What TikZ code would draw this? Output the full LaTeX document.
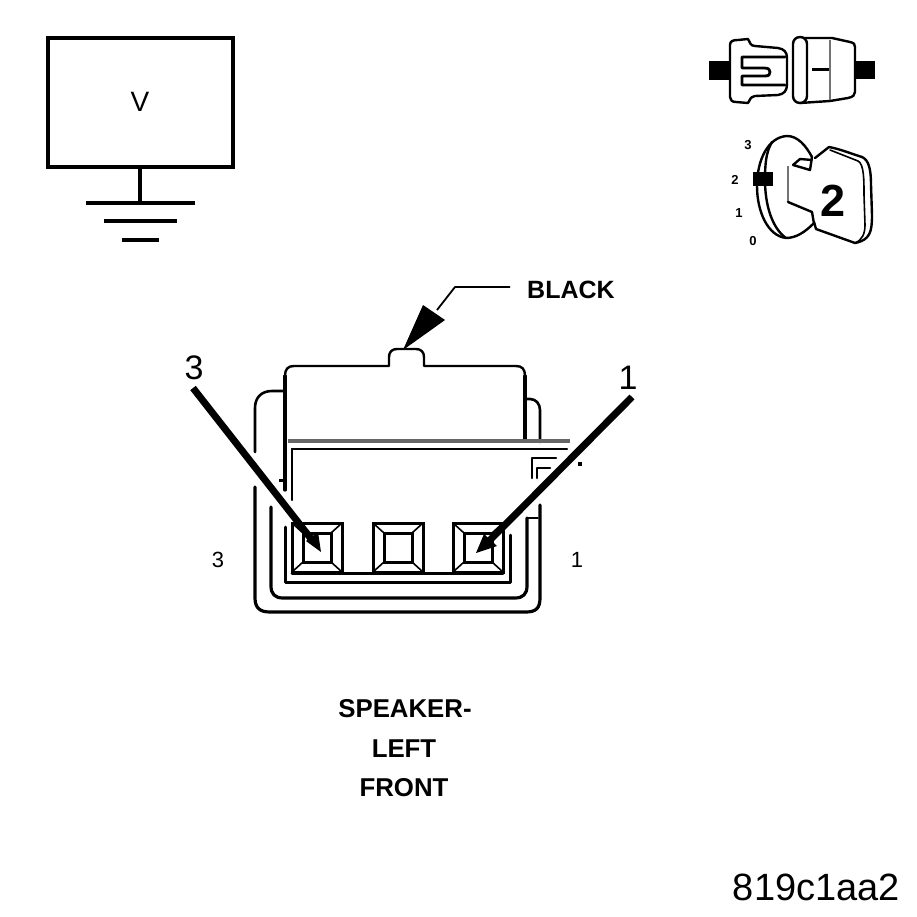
\documentclass[tikz,border=0pt]{standalone}
\usepackage{fontspec}
\setmainfont{Liberation Sans}
\newcommand{\fsz}[1]{\fontsize{#1}{#1}\selectfont}
\tikzset{
 ln/.style={draw=black,line width=2.4pt,line join=round,line cap=round},
 thin ln/.style={draw=black,line width=1.6pt,line join=round},
 heavy/.style={draw=black,line width=3.8pt},
 leader/.style={draw=black,line width=7pt},
 lab/.style={inner sep=0pt,text=black},
 gry/.style={draw=black!55,line width=2pt},
}
\begin{document}
\begin{tikzpicture}[x=1pt,y=-1pt]
\useasboundingbox (0,0) rectangle (917,917);
% voltmeter box and ground
\node[draw=black,line width=3.8pt,outer sep=0pt,minimum width=185pt,minimum height=129pt,inner sep=0pt,lab] (vbox) at (140.5,102.5) {};
\node[lab,font=\fsz{28}] (vlab) at (140,102) {V};
\coordinate (gnd) at (140,203);
\draw[heavy] (vbox.south -| gnd) -- (gnd);
\draw[heavy] (86,203) -- (195,203);
\draw[heavy] (104,221) -- (177,221);
\draw[heavy] (122,240) -- (159,240);
% connector icon, left half
\fill[black] (709,61) rectangle (730,80);
\draw[ln,fill=white] (730,45) .. controls (730,41) and (733,40) .. (738,40) -- (748,39) .. controls (750,42) and (750,46) .. (755,46) -- (778,48) .. controls (784,49) and (787,52) .. (787,58) -- (787,84) .. controls (787,91) and (784,94) .. (778,95) -- (755,96) .. controls (750,97) and (750,100) .. (748,103) -- (736,102) .. controls (732,102) and (730,100) .. (730,97) -- cycle;
\draw[ln,line width=2.8pt] (785,57) -- (742,57) -- (742,68) -- (764,68) .. controls (769,68) and (770,70) .. (770,72) .. controls (770,75) and (769,76) .. (764,76) -- (742,76) -- (742,85) -- (785,85);
% connector icon, right half
\fill[black] (856,61) rectangle (875,79);
\draw[ln,fill=white] (800,38) -- (832,38) -- (850,42) .. controls (854,43) and (855,44) .. (855,47) -- (855,92) .. controls (855,95) and (853,97) .. (848,98) -- (830,101) -- (800,103) -- cycle;
\draw[ln,fill=white] (793,44) .. controls (793,40) and (796,37) .. (800,37) .. controls (804,37) and (807,40) .. (807,44) -- (807,96) .. controls (807,100) and (804,103) .. (800,103) .. controls (796,103) and (793,100) .. (793,96) -- cycle;
\draw[gry] (830,40) -- (830,100);
\draw[draw=black,line width=3pt] (812,70) -- (829,70);
% ignition key icon
\node[lab,font=\bfseries\fsz{13}] (p3) at (748,145) {3};
\node[lab,font=\bfseries\fsz{13}] (p2) at (735,180) {2};
\node[lab,font=\bfseries\fsz{13}] (p1) at (739,213) {1};
\node[lab,font=\bfseries\fsz{13}] (p0) at (753,241) {0};
\draw[ln] (813,224) .. controls (805,232) and (796,238) .. (786,238) .. controls (768,236) and (757,212) .. (757,186) .. controls (757,160) and (768,137) .. (787,136) .. controls (798,136) and (806,146) .. (812,157);
\draw[ln] (772,142) .. controls (766,152) and (765,164) .. (765,180) .. controls (765,205) and (772,228) .. (786,238);
\fill[black] (753,172) rectangle (773,186);
\draw[ln] (812,157) -- (810,170) -- (793,165) -- (800,159) -- (812,160);
\draw[gry,line width=2.5pt] (788,166) -- (788,202);
\draw[ln] (788,202) -- (812,212) -- (814,224);
\draw[ln] (815,158) -- (829,147) .. controls (840,149) and (852,154) .. (862,157) .. controls (869,160) and (871,170) .. (871,185) -- (872,215) .. controls (872,232) and (870,240) .. (855,243) -- (816,229) -- (814,222);
\draw[ln,line width=1.6pt] (830,150) -- (858,161) .. controls (864,164) and (864,180) .. (864,195) -- (865,225) .. controls (865,234) and (862,240) .. (855,243);
\node[lab,font=\bfseries\fsz{45}] (keytwo) at (833,201) {2};
% colour callout
\node[lab,font=\fsz{25},anchor=west] (black) at (527,290) {\textbf{BLACK}};
\coordinate (elbow) at (455,287);
\coordinate (tipblack) at (403,350);
\draw[thin ln,line width=1.8pt] (510,287) -- (elbow) -- (437,310);
\fill[black] (423,305) -- (445,320) -- (tipblack) -- cycle;
% connector body
\draw[ln] (285,441) -- (285,376) .. controls (285,369) and (288,366) .. (294,366) -- (389,366) -- (389,357) .. controls (389,352) and (392,349) .. (397,349) -- (416,349) .. controls (421,349) and (424,352) .. (424,357) -- (424,366) -- (516,366) .. controls (522,366) and (525,369) .. (525,376) -- (525,441);
\draw[ln,line width=3.2pt] (525,376) -- (525,441);
\draw[ln,line width=3.2pt] (285,376) -- (285,490);
% outer shell
\draw[ln,line width=2.6pt] (285,391) -- (272,391) .. controls (261,391) and (255,398) .. (255,408) -- (255,452);
\draw[ln,line width=2.6pt] (525,399) -- (530,399) .. controls (536,399) and (540,404) .. (540,410) -- (540,442);
\draw[ln,line width=3.2pt] (255,487) -- (255,598) .. controls (255,608) and (260,612) .. (270,612) -- (526,612) .. controls (536,612) and (540,608) .. (540,598) -- (540,505);
% lock lines
\draw[black!60,line width=3.5pt] (288,441) -- (570,441);
\draw[ln] (292,449) -- (567,449);
\draw[ln] (292,449) -- (292,500);
\draw[ln,line width=2.6pt] (532,478) -- (532,458) -- (556,458);
\draw[ln,line width=2.6pt] (537,478) -- (537,468) -- (550,468);
\fill[black] (578,462) rectangle (582,466);
\fill[black] (279,479) rectangle (285,482);
% inner shell
\draw[ln,line width=3.2pt] (271,507) -- (271,586) .. controls (271,594) and (275,598) .. (283,598) -- (515,598) .. controls (523,598) and (527,594) .. (527,586) -- (527,518);
\draw[ln,line width=1.5pt] (527,518) -- (538,518);
% tray
\draw[ln,line width=3pt] (285,527) -- (285,582) -- (510,582) -- (510,535);
\draw[ln,line width=3pt] (292,573) -- (503,573);
% terminals
\foreach \n/\xa in {a/292,b/373,c/453}{
 \node[draw=black,line width=3pt,outer sep=0pt,minimum width=50pt,minimum height=49pt,inner sep=0pt,anchor=north west,lab] (\n out) at (\xa,523) {};
 \node[draw=black,line width=3pt,outer sep=0pt,minimum width=28pt,minimum height=29pt,inner sep=0pt,lab] (\n in) at (\n out.center) {};
 \foreach \c in {north west,north east,south west,south east}
  \draw[thin ln] (\n out.\c) -- (\n in.\c);
}
% pointer leaders
\node[lab,font=\fsz{34}] (big3) at (194,368) {3};
\node[lab,font=\fsz{34}] (big1) at (628,378) {1};
\coordinate (s3) at (193,388);
\coordinate (e3) at (312,540);
\coordinate (s1) at (632,397);
\coordinate (e1) at (490,540);
\draw[leader] (s3) -- (e3);
\draw[leader] (s1) -- (e1);
\fill[black] (306,541) -- (318,532) -- (321,552) -- cycle;
\fill[black] (484,534) -- (497,546) -- (476,553) -- cycle;
\node[lab,font=\fsz{22}] (sm3) at (218,560) {3};
\node[lab,font=\fsz{22}] (sm1) at (577,560) {1};
% captions
\node[lab,font=\bfseries\fsz{25.8}] (c1) at (405,709) {SPEAKER-};
\node[lab,font=\bfseries\fsz{25.8}] (c2) at (404,749) {LEFT};
\node[lab,font=\bfseries\fsz{25.8}] (c3) at (404,788) {FRONT};
\node[lab,font=\fsz{38},anchor=east] (code) at (900,887) {819c1aa2};
\end{tikzpicture}
\end{document}
